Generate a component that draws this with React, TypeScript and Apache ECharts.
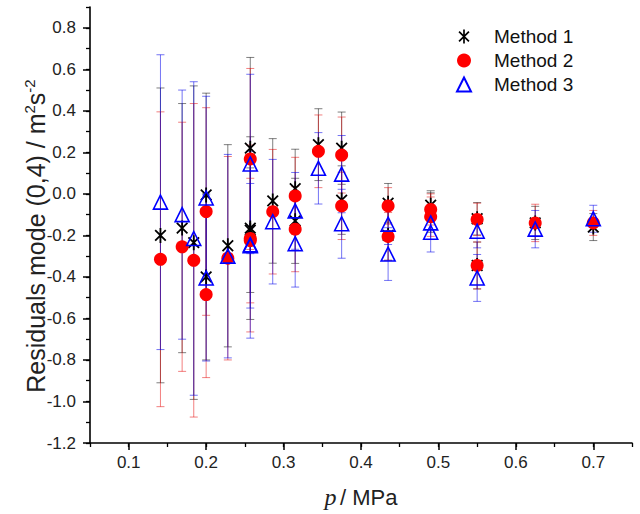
import React, { useEffect, useRef } from "react";
import * as echarts from "echarts";

// Pressure (MPa) of each measured point
const P = [0.141, 0.169, 0.184, 0.2, 0.2, 0.228, 0.257, 0.257, 0.257, 0.286, 0.315, 0.315, 0.345, 0.375, 0.375, 0.435, 0.435, 0.49, 0.49, 0.55, 0.55, 0.625, 0.7];

// Method 1 residuals and uncertainties
const M1 = [-0.2, -0.165, -0.235, -0.005, -0.4, -0.25, 0.22, -0.165, -0.175, -0.034, 0.025, -0.13, 0.237, 0.22, -0.03, -0.045, -0.2, -0.055, -0.09, -0.12, -0.345, -0.14, -0.16];
const M1_ERR = [0.71, 0.6, 0.755, 0.49, 0.4, 0.487, 0.437, 0.44, 0.3, 0.3, 0.19, 0.205, 0.173, 0.174, 0.165, 0.095, 0.12, 0.07, 0.095, 0.078, 0.113, 0.08, 0.065];

// Method 2 residuals and uncertainties
const M2 = [-0.315, -0.255, -0.32, -0.085, -0.485, -0.31, 0.168, -0.215, -0.225, -0.086, -0.01, -0.17, 0.205, 0.187, -0.058, -0.058, -0.205, -0.075, -0.11, -0.123, -0.345, -0.14, -0.14];
const M2_ERR = [0.71, 0.6, 0.755, 0.5, 0.4, 0.49, 0.436, 0.45, 0.3, 0.3, 0.186, 0.205, 0.175, 0.183, 0.162, 0.088, 0.115, 0.075, 0.095, 0.078, 0.113, 0.09, 0.06];

// Method 3 residuals and uncertainties
const M3 = [-0.04, -0.1, -0.215, -0.02, -0.405, -0.3, 0.144, -0.245, -0.25, -0.134, -0.082, -0.24, 0.123, 0.095, -0.144, -0.146, -0.29, -0.14, -0.185, -0.18, -0.405, -0.17, -0.12];
const M3_ERR = [0.71, 0.6, 0.755, 0.49, 0.4, 0.49, 0.432, 0.45, 0.3, 0.3, 0.185, 0.209, 0.172, 0.186, 0.166, 0.098, 0.127, 0.08, 0.095, 0.08, 0.113, 0.09, 0.065];

const SERIES_NAMES = ["Method 1", "Method 2", "Method 3"];
const X_TICKS = [0.1, 0.2, 0.3, 0.4, 0.5, 0.6, 0.7];
const Y_TICKS = [-1.2, -1.0, -0.8, -0.6, -0.4, -0.2, 0.0, 0.2, 0.4, 0.6, 0.8];

const FONT = "Liberation Sans, Arial, sans-serif";

function asteriskPath(): string {
  const w = 0.12;
  const parts: string[] = [];
  [90, 45, 135].forEach((deg) => {
    const a = (deg * Math.PI) / 180;
    const c = Math.cos(a), s = Math.sin(a);
    const pts = [
      [-1, -w],
      [1, -w],
      [1, w],
      [-1, w],
    ].map(([u, v]) => [u * c - v * s, u * s + v * c]);
    parts.push(
      "M" + pts.map((p) => p[0].toFixed(4) + "," + p[1].toFixed(4)).join("L") + "Z"
    );
  });
  return "path://" + parts.join("");
}

function errorBarSeries(name: string, vals: number[], errs: number[], color: string) {
  return {
    type: "custom",
    name,
    xAxisIndex: 0,
    yAxisIndex: 0,
    z: 1,
    encode: { x: 0, y: 1 },
    data: P.map((p, i) => [p, vals[i], errs[i]]),
    renderItem: (params: any, api: any) => {
      const x = api.value(0);
      const y = api.value(1);
      const e = api.value(2);
      const t = api.coord([x, y + e]);
      const b = api.coord([x, y - e]);
      const h = 4;
      const style = { stroke: color, lineWidth: 1 };
      return {
        type: "group",
        children: [
          { type: "line", shape: { x1: t[0], y1: t[1], x2: b[0], y2: b[1] }, style },
          { type: "line", shape: { x1: t[0] - h, y1: t[1], x2: t[0] + h, y2: t[1] }, style },
          { type: "line", shape: { x1: b[0] - h, y1: b[1], x2: b[0] + h, y2: b[1] }, style },
        ],
      };
    },
  };
}

export default function App() {
  const ref = useRef<HTMLDivElement>(null);

  useEffect(() => {
    document.body.style.margin = "0";
    if (!ref.current) return;
    const chart = echarts.init(ref.current, null, { renderer: "svg" });

    const option: any = {
      animation: false,
      backgroundColor: "#fff",
      grid: { left: 90, right: 8, top: 7, bottom: 71 },
      legend: {
        data: SERIES_NAMES,
        orient: "vertical",
        left: 451,
        top: 21,
        itemWidth: 14,
        itemHeight: 14,
        itemGap: 3,
        textStyle: {
          fontFamily: FONT,
          fontSize: 19,
          color: "#111",
          lineHeight: 21,
          padding: [0, 0, 0, 18],
        },
      },
      xAxis: [
        {
          type: "value",
          min: 0.05,
          max: 0.75,
          position: "bottom",
          axisLine: { show: true, onZero: false, lineStyle: { color: "#000", width: 1.6 } },
          axisTick: { show: true, length: 7, lineStyle: { color: "#000", width: 1.5 }, customValues: X_TICKS },
          axisLabel: {
            customValues: X_TICKS,
            formatter: (v: number) => v.toFixed(1),
            margin: 11,
            fontFamily: FONT,
            fontSize: 17,
            color: "#222",
          },
          splitLine: { show: false },
          name: "{i|p} {a|/ MPa}",
          nameLocation: "middle",
          nameGap: 42,
          nameMoveOverlap: false,
          nameTextStyle: {
            rich: {
              i: { fontFamily: "Liberation Serif, Times New Roman, serif", fontStyle: "italic", fontSize: 24, color: "#222" },
              a: { fontFamily: FONT, fontSize: 22, color: "#222" },
            },
          },
        },
        {
          type: "value",
          min: 0.05,
          max: 0.75,
          interval: 0.05,
          position: "bottom",
          axisLine: { show: false, onZero: false },
          axisTick: { show: true, length: 4, lineStyle: { color: "#000", width: 1.3 } },
          axisLabel: { show: false },
          splitLine: { show: false },
        },
      ],
      yAxis: [
        {
          type: "value",
          min: -1.2,
          max: 0.9,
          interval: 0.2,
          position: "left",
          axisLine: { show: true, onZero: false, lineStyle: { color: "#000", width: 1.6 } },
          axisTick: { show: true, length: 7, lineStyle: { color: "#000", width: 1.5 }, customValues: Y_TICKS },
          axisLabel: {
            customValues: Y_TICKS,
            formatter: (v: number) => v.toFixed(1),
            margin: 14,
            fontFamily: FONT,
            fontSize: 17,
            color: "#222",
          },
          splitLine: { show: false },
          name: "{a|Residuals mode (0,4) / m}{s|2}{a|s}{s|-2}",
          nameLocation: "middle",
          nameGap: 40,
          nameMoveOverlap: false,
          nameTextStyle: {
            padding: [0, 22, 0, 0],
            rich: {
              a: { fontFamily: FONT, fontSize: 25, color: "#222", lineHeight: 28 },
              s: { fontFamily: FONT, fontSize: 15, color: "#222", lineHeight: 15, verticalAlign: "top" },
            },
          },
        },
        {
          type: "value",
          min: -1.2,
          max: 0.9,
          interval: 0.1,
          position: "left",
          axisLine: { show: false, onZero: false },
          axisTick: { show: true, length: 4, lineStyle: { color: "#000", width: 1.3 } },
          axisLabel: { show: false },
          splitLine: { show: false },
        },
      ],
      series: [
        errorBarSeries("eb1", M1, M1_ERR, "rgba(0,0,0,0.5)"),
        errorBarSeries("eb2", M2, M2_ERR, "rgba(230,0,0,0.5)"),
        errorBarSeries("eb3", M3, M3_ERR, "rgba(0,0,235,0.55)"),
        {
          type: "scatter",
          name: SERIES_NAMES[0],
          xAxisIndex: 0,
          yAxisIndex: 0,
          z: 3,
          symbol: asteriskPath(),
          symbolKeepAspect: true,
          symbolSize: 15,
          itemStyle: { color: "#000", opacity: 1 },
          data: P.map((p, i) => [p, M1[i]]),
        },
        {
          type: "scatter",
          name: SERIES_NAMES[1],
          xAxisIndex: 0,
          yAxisIndex: 0,
          z: 4,
          symbol: "circle",
          symbolSize: 13,
          itemStyle: { color: "#ff0000", opacity: 1 },
          data: P.map((p, i) => [p, M2[i]]),
        },
        {
          type: "scatter",
          name: SERIES_NAMES[2],
          xAxisIndex: 0,
          yAxisIndex: 0,
          z: 5,
          symbol: "triangle",
          symbolSize: 14,
          itemStyle: { color: "rgba(255,255,255,0)", borderColor: "#0000ff", borderWidth: 1.6, opacity: 1 },
          data: P.map((p, i) => [p, M3[i]]),
        },
      ],
    };

    chart.setOption(option);
    return () => chart.dispose();
  }, []);

  return <div ref={ref} style={{ width: 640, height: 514 }} />;
}
